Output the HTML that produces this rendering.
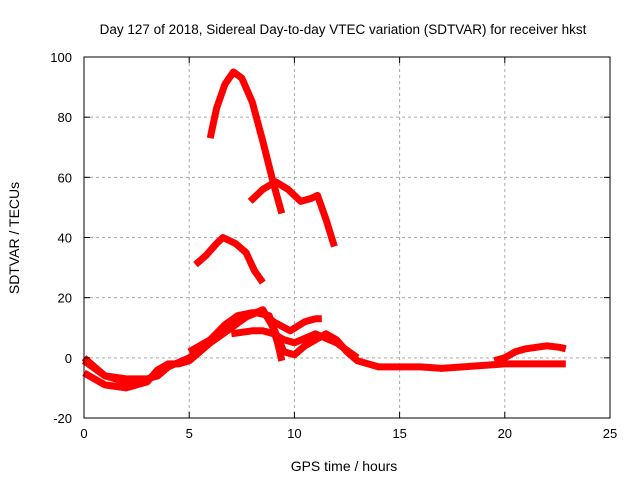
<!DOCTYPE html>
<html><head><meta charset="utf-8"><style>
body{margin:0;background:#fff}
svg{display:block;font-family:"Liberation Sans",sans-serif}
</style></head><body>
<svg id="c" width="640" height="480">
<text x="343" y="34" font-size="13.5" text-anchor="middle">Day 127 of 2018, Sidereal Day-to-day VTEC variation (SDTVAR) for receiver hkst</text>
<text x="344" y="471" font-size="14" text-anchor="middle">GPS time / hours</text>
<text transform="translate(19,238) rotate(-90)" font-size="14" text-anchor="middle">SDTVAR / TECUs</text>
<g id="grid"></g><g id="series"></g><g id="axes"></g>
</svg>
<script>
const xTicks=[0,5,10,15,20,25];
const yTicks=[-20,0,20,40,60,80,100];
const sA_x=[6,6.3,6.7,7.1,7.5,8,8.5,9,9.4];
const sA_y=[73,83,91,95,93,85,72,58,48];
const sB_x=[7.9,8.5,9.1,9.7,10.3,10.8,11.1,11.5,11.9];
const sB_y=[52,56,58.5,56,52,53,54,46,37];
const sC_x=[5.3,5.8,6.3,6.6,7.2,7.7,8.1,8.5];
const sC_y=[31,34,38,40,38,35,29,25];
const sD_x=[0,0.5,1,2,3,3.5,4,5,6,7,7.8,8.5,9,9.5,10,10.5,11,11.5,12,12.5,13,14,16,17,18,19,20,21,22,22.9];
const sD_y=[0,-3,-6,-7,-7,-6,-3,0,5,10,14,16,10,2,1,4,6,8,6,2,-1,-3,-3,-3.5,-3,-2.5,-2,-2,-2,-2];
const sE_x=[0,0.5,1,2,3,3.5,4,4.5,5,6,7,7.5,8.2,8.8,9.2,9.4];
const sE_y=[-5,-7,-9,-10,-8,-4,-2,-2,-1,5,10,13,15,14,5,-1];
const sF_x=[5,6,6.7,7.3,8,8.5,9,9.8,10.5,11,11.3];
const sF_y=[2,6,11,14,15,15,12,9,12,13,13];
const sG_x=[7,8,8.5,9,9.5,10,11,12,13];
const sG_y=[8,9,9,8,6,5,8,5,0];
const sH_x=[19.5,20,20.5,21,22,22.6,22.9];
const sH_y=[-1,0,2,3,4,3.5,3];
const sI_x=[0,1,2,3];
const sI_y=[-1,-6,-8,-7];
const seriesX=[sA_x,sB_x,sC_x,sD_x,sE_x,sF_x,sG_x,sH_x,sI_x];
const seriesY=[sA_y,sB_y,sC_y,sD_y,sE_y,sF_y,sG_y,sH_y,sI_y];
const X0=84,X1=610,Y0=418,Y1=57;
const xs=v=>X0+(v-0)/25*(X1-X0);
const ys=v=>Y0-(v+20)/120*(Y0-Y1);
const NS="http://www.w3.org/2000/svg";
function mk(t,a,p){const e=document.createElementNS(NS,t);for(const k in a)e.setAttribute(k,a[k]);p.appendChild(e);return e;}
const grid=document.getElementById('grid'),axes=document.getElementById('axes'),ser=document.getElementById('series');
xTicks.forEach(t=>{
 if(t>0&&t<25){const g=mk('line',{x1:xs(t),x2:xs(t),y1:Y1,y2:Y0,stroke:'#aaa','stroke-dasharray':'3,3'},grid);
 
 }
 const l=mk('text',{x:xs(t),y:Y0+20,'font-size':13,'text-anchor':'middle'},axes);l.textContent=t;
 
 
 mk('line',{x1:xs(t),x2:xs(t),y1:Y0,y2:Y0-6,stroke:'#000'},axes);
 mk('line',{x1:xs(t),x2:xs(t),y1:Y1,y2:Y1+6,stroke:'#000'},axes);
});
yTicks.forEach(t=>{
 if(t>-20&&t<100){const g=mk('line',{x1:X0,x2:X1,y1:ys(t),y2:ys(t),stroke:'#aaa','stroke-dasharray':'3,3'},grid);
 
 }
 const l=mk('text',{x:X0-12,y:ys(t)+5,'font-size':13,'text-anchor':'end'},axes);l.textContent=t;
 
 
 mk('line',{x1:X0,x2:X0+6,y1:ys(t),y2:ys(t),stroke:'#000'},axes);
 mk('line',{x1:X1,x2:X1-6,y1:ys(t),y2:ys(t),stroke:'#000'},axes);
});
const fr=mk('rect',{x:X0,y:Y1,width:X1-X0,height:Y0-Y1,fill:'none',stroke:'#000'},axes);


seriesX.forEach((xa,i)=>{
 const ya=seriesY[i];
 const pts=xa.map((x,j)=>xs(x).toFixed(1)+','+ys(ya[j]).toFixed(1)).join(' ');
 const p=mk('polyline',{points:pts,fill:'none',stroke:'#f00','stroke-width':7,'stroke-linejoin':'round','stroke-linecap':'butt'},ser);
 
 
});
</script>
</body></html>
